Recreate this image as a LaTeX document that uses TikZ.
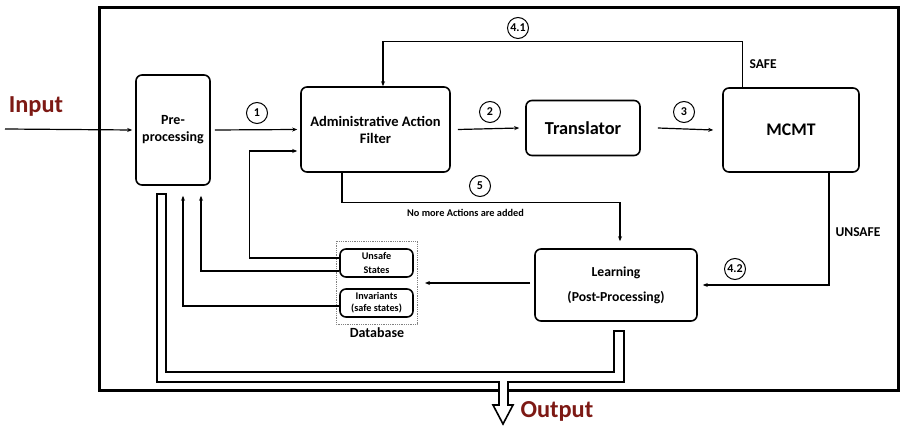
\documentclass[tikz,border=0pt]{standalone}
\usepackage{fontspec}
\setmainfont{Carlito}
\usetikzlibrary{arrows.meta}
\definecolor{ioRed}{RGB}{125,25,20}

\tikzset{
  blk/.style={draw, rounded corners=6pt, line width=1.6pt, align=center, font=\bfseries},
  dbbox/.style={draw, rounded corners=6pt, line width=1.6pt, align=center, minimum width=73pt, minimum height=28pt},
  circ/.style={draw, circle, inner sep=0pt, minimum size=21pt, line width=1pt, font=\bfseries\fontsize{12}{14}\selectfont},
  arr/.style={-{Stealth[length=5pt,width=4pt]}, line width=1.2pt},
  lbl/.style={font=\bfseries\fontsize{13.5}{15}\selectfont},
}

\begin{document}
\begin{tikzpicture}[x=1pt,y=-1pt]
\useasboundingbox (0,0) rectangle (901,427);

% frame
\draw[line width=3pt] (99,8) rectangle (898,390);

% blocks
\node[blk, minimum width=74pt, minimum height=110pt, font=\bfseries\fontsize{14}{17}\selectfont] (pre) at (173,130) {Pre-\\processing};
\node[blk, minimum width=149pt, minimum height=85pt, font=\bfseries\fontsize{14.5}{17}\selectfont] (aaf) at (375.5,129.5) {Administrative Action\\Filter};
\node[blk, minimum width=114pt, minimum height=55pt, font=\bfseries\fontsize{18.3}{20}\selectfont] (trans) at (583,128) {Translator};
\node[blk, minimum width=136pt, minimum height=84pt, font=\bfseries\fontsize{17.7}{20}\selectfont] (mcmt) at (791,130) {MCMT};
\node[blk, minimum width=162pt, minimum height=72pt, font=\bfseries\fontsize{13.7}{25}\selectfont] (learn) at (616,285) {Learning\\(Post-Processing)};

% database
\draw[densely dotted, gray, line width=0.8pt] (336,241) rectangle (417,324);
\node[dbbox, font=\bfseries\fontsize{10.2}{14}\selectfont] (unsafe) at (376.5,263) {Unsafe\\States};
\node[dbbox, font=\bfseries\fontsize{10.2}{12}\selectfont] (inv) at (376.5,303) {Invariants\\(safe states)};
\node[font=\bfseries\fontsize{14}{16}\selectfont] (db) at (377,333) {Database};

% input / output
\coordinate (in) at (5,129);
\draw[arr] (in) -- ([xshift=-3pt]pre.west);
\node[font=\bfseries\fontsize{24.4}{26}\selectfont, text=ioRed] (input) at (36,107) {Input};
\draw[line width=1.6pt, fill=white] (157,194) -- (157,382) -- (499,382) -- (499,405) -- (493,405) -- (503,424)
  -- (513,405) -- (508,405) -- (508,382) -- (624,382) -- (624,331) -- (614,331) -- (614,372)
  -- (166,372) -- (166,194) -- cycle;
\node[font=\bfseries\fontsize{24.4}{26}\selectfont, text=ioRed, anchor=west] (output) at (517,411) {Output};

% main flow
\draw[arr] ([xshift=4pt]pre.east) -- ([xshift=-3pt]aaf.west);
\node[circ] (c1) at (257,113) {1};
\draw[arr] ([xshift=7pt]aaf.east) -- ([xshift=-6pt]trans.west);
\node[circ] (c2) at (490,112) {2};
\draw[arr] ([xshift=17pt]trans.east) -- ([xshift=-9pt]mcmt.west);
\node[circ] (c3) at (684,112) {3};

% safe / unsafe
\draw[arr] ([xshift=20pt]mcmt.north west) -- ++(0,-46) -| ([xshift=7.5pt]aaf.north);
\node[circ] (c41) at (518,28) {4.1};
\node[lbl, anchor=west] (safe) at (746,64) {SAFE};
\draw[arr] ([xshift=38pt]mcmt.south) |- ([xshift=5pt]learn.east);
\node[circ] (c42) at (735,269) {4.2};
\node[lbl, anchor=west] (unsafel) at (832,232) {UNSAFE};

% no more actions
\draw[arr] ([xshift=-33.5pt]aaf.south) -- ++(0,30) -| ([xshift=4pt,yshift=7pt]learn.north);
\node[circ] (c5) at (480,186) {5};
\node[font=\bfseries\fontsize{10.3}{12}\selectfont] (nomore) at (465.5,213) {No more Actions are added};

% database links
\draw[arr] ([xshift=-4pt,yshift=2pt]learn.west) -- (425,283);
\draw[arr] ([yshift=5pt]unsafe.west) -- ++(-90,0) |- ([xshift=-3pt,yshift=-21.5pt]aaf.west);
\draw[arr] ([yshift=-8pt]unsafe.west) -| ([xshift=28pt,yshift=-10pt]pre.south);
\draw[arr] ([yshift=-3pt]inv.west) -| ([xshift=10pt,yshift=-10pt]pre.south);

\end{tikzpicture}
\end{document}
